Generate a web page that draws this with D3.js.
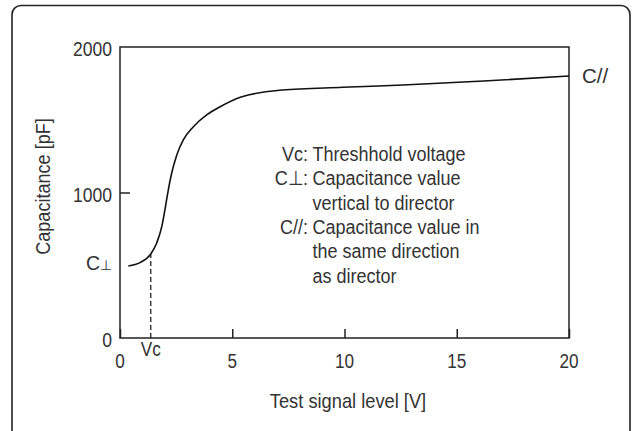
<!DOCTYPE html>
<html>
<head>
<meta charset="utf-8">
<script src="https://cdn.jsdelivr.net/npm/d3@7"></script>
<style>
  body { margin: 0; background: #fff; }
  svg text { font-family: "Liberation Sans", Arial, sans-serif; fill: #333; }
</style>
</head>
<body>
<svg width="632" height="431"></svg>
<script>
// curve: test signal level [V] vs capacitance [pF]
var volts = [0.37, 0.89, 1.37, 1.63, 1.86, 2.0, 2.15, 2.30, 2.53, 2.82, 3.27, 3.86, 4.42, 5.43, 7.23, 9.92, 12.6, 16.2, 20];
var capacitance = [495, 518, 577, 651, 765, 880, 1017, 1132, 1258, 1361, 1452, 1533, 1586, 1658, 1704, 1723, 1739, 1766, 1801];
var xTicks = [0, 5, 10, 15, 20];
var yTicks = [0, 1000, 2000];
var vc = 1.37;
var notes = [
  ["Vc:", "Threshhold voltage"],
  ["C\u22A5:", "Capacitance value"],
  ["", "vertical to director"],
  ["C//:", "Capacitance value in"],
  ["", "the same direction"],
  ["", "as director"]
];

var svg = d3.select("svg"),
    margin = {left: 120, right: 63, top: 47, bottom: 93},
    width = 632 - margin.left - margin.right,
    height = 431 - margin.top - margin.bottom;

// squeeze text horizontally, the original uses a condensed face
function condense(sel, k) {
  sel.each(function() {
    var w = this.getComputedTextLength();
    d3.select(this).attr("textLength", w * k).attr("lengthAdjust", "spacingAndGlyphs");
  });
}

// outer frame, cut off at the bottom like the original
svg.append("rect")
    .attr("x", 12).attr("y", 5.5)
    .attr("width", 618).attr("height", 440)
    .attr("rx", 9)
    .attr("fill", "none").attr("stroke", "#222").attr("stroke-width", 1.6);

var g = svg.append("g").attr("transform", "translate(" + margin.left + "," + margin.top + ")");

var x = d3.scaleLinear().domain([0, 20]).range([0, width]);
var y = d3.scaleLinear().domain([0, 2000]).range([height, 0]);

g.append("rect")
    .attr("width", width).attr("height", height)
    .attr("fill", "none").attr("stroke", "#222").attr("stroke-width", 1.5);

// inward ticks
var xAxis = g.append("g").attr("transform", "translate(0," + height + ")")
    .call(d3.axisTop(x).tickValues(xTicks).tickSize(9).tickFormat(""));
xAxis.select(".domain").remove();
xAxis.selectAll("line").attr("stroke", "#222").attr("stroke-width", 1.5);

var yAxis = g.append("g")
    .call(d3.axisRight(y).tickValues([1000]).tickSize(10).tickFormat(""));
yAxis.select(".domain").remove();
yAxis.selectAll("line").attr("stroke", "#222").attr("stroke-width", 1.5);

var xl = g.selectAll(".xlab").data(xTicks).enter().append("text")
    .attr("class", "xlab")
    .attr("x", function(d) { return x(d); })
    .attr("y", height + 29.5)
    .attr("text-anchor", "middle")
    .style("font-size", "19.5px")
    .text(function(d) { return d; });
condense(xl, 0.88);

var yl = g.selectAll(".ylab").data(yTicks).enter().append("text")
    .attr("class", "ylab")
    .attr("x", -8)
    .attr("y", function(d) { return y(d) + 9; })
    .attr("text-anchor", "end")
    .style("font-size", "19.5px")
    .text(function(d) { return d; });
condense(yl, 0.9);

// the curve
var pts = volts.map(function(v, i) { return [v, capacitance[i]]; });
var line = d3.line()
    .x(function(d) { return x(d[0]); })
    .y(function(d) { return y(d[1]); })
    .curve(d3.curveMonotoneX);

g.append("path")
    .datum(pts)
    .attr("d", line)
    .attr("fill", "none").attr("stroke", "#111").attr("stroke-width", 1.6);

// threshold voltage marker
g.append("line")
    .attr("x1", x(vc)).attr("x2", x(vc))
    .attr("y1", height).attr("y2", y(577))
    .attr("stroke", "#222").attr("stroke-width", 1.3)
    .attr("stroke-dasharray", "5,3");

var vcl = g.append("text")
    .attr("x", x(vc)).attr("y", height + 18)
    .attr("text-anchor", "middle")
    .style("font-size", "19.5px")
    .text("Vc");
condense(vcl, 0.88);

var cperp = g.append("text")
    .attr("x", -8).attr("y", y(capacitance[0]) + 4)
    .attr("text-anchor", "end")
    .style("font-size", "19.5px");
cperp.append("tspan").text("C");
cperp.append("tspan").style("font-size", "14px").text("\u22A5");

var cpar = g.append("text")
    .attr("x", width + 13).attr("y", y(capacitance[capacitance.length - 1]) + 6.7)
    .style("font-size", "19.5px")
    .text("C//");
condense(cpar, 1.05);

// annotation block
var note = g.append("g").attr("transform", "translate(0,114)");
notes.forEach(function(n, i) {
  var a = note.append("text")
      .attr("x", 188).attr("y", i * 24.3)
      .attr("text-anchor", "end")
      .style("font-size", "20px")
      .text(n[0]);
  if (n[0]) condense(a, 0.9);
  var b = note.append("text")
      .attr("x", 192.5).attr("y", i * 24.3)
      .style("font-size", "20px")
      .text(n[1]);
  condense(b, 0.9);
});

// axis titles
var xt = g.append("text")
    .attr("x", 228).attr("y", height + 70)
    .attr("text-anchor", "middle")
    .style("font-size", "21px")
    .text("Test signal level [V]");
condense(xt, 0.87);

var yt = g.append("text")
    .attr("transform", "translate(-70," + (height / 2 - 6) + ") rotate(-90)")
    .attr("text-anchor", "middle")
    .style("font-size", "21px")
    .text("Capacitance [pF]");
condense(yt, 0.86);
</script>
</body>
</html>
